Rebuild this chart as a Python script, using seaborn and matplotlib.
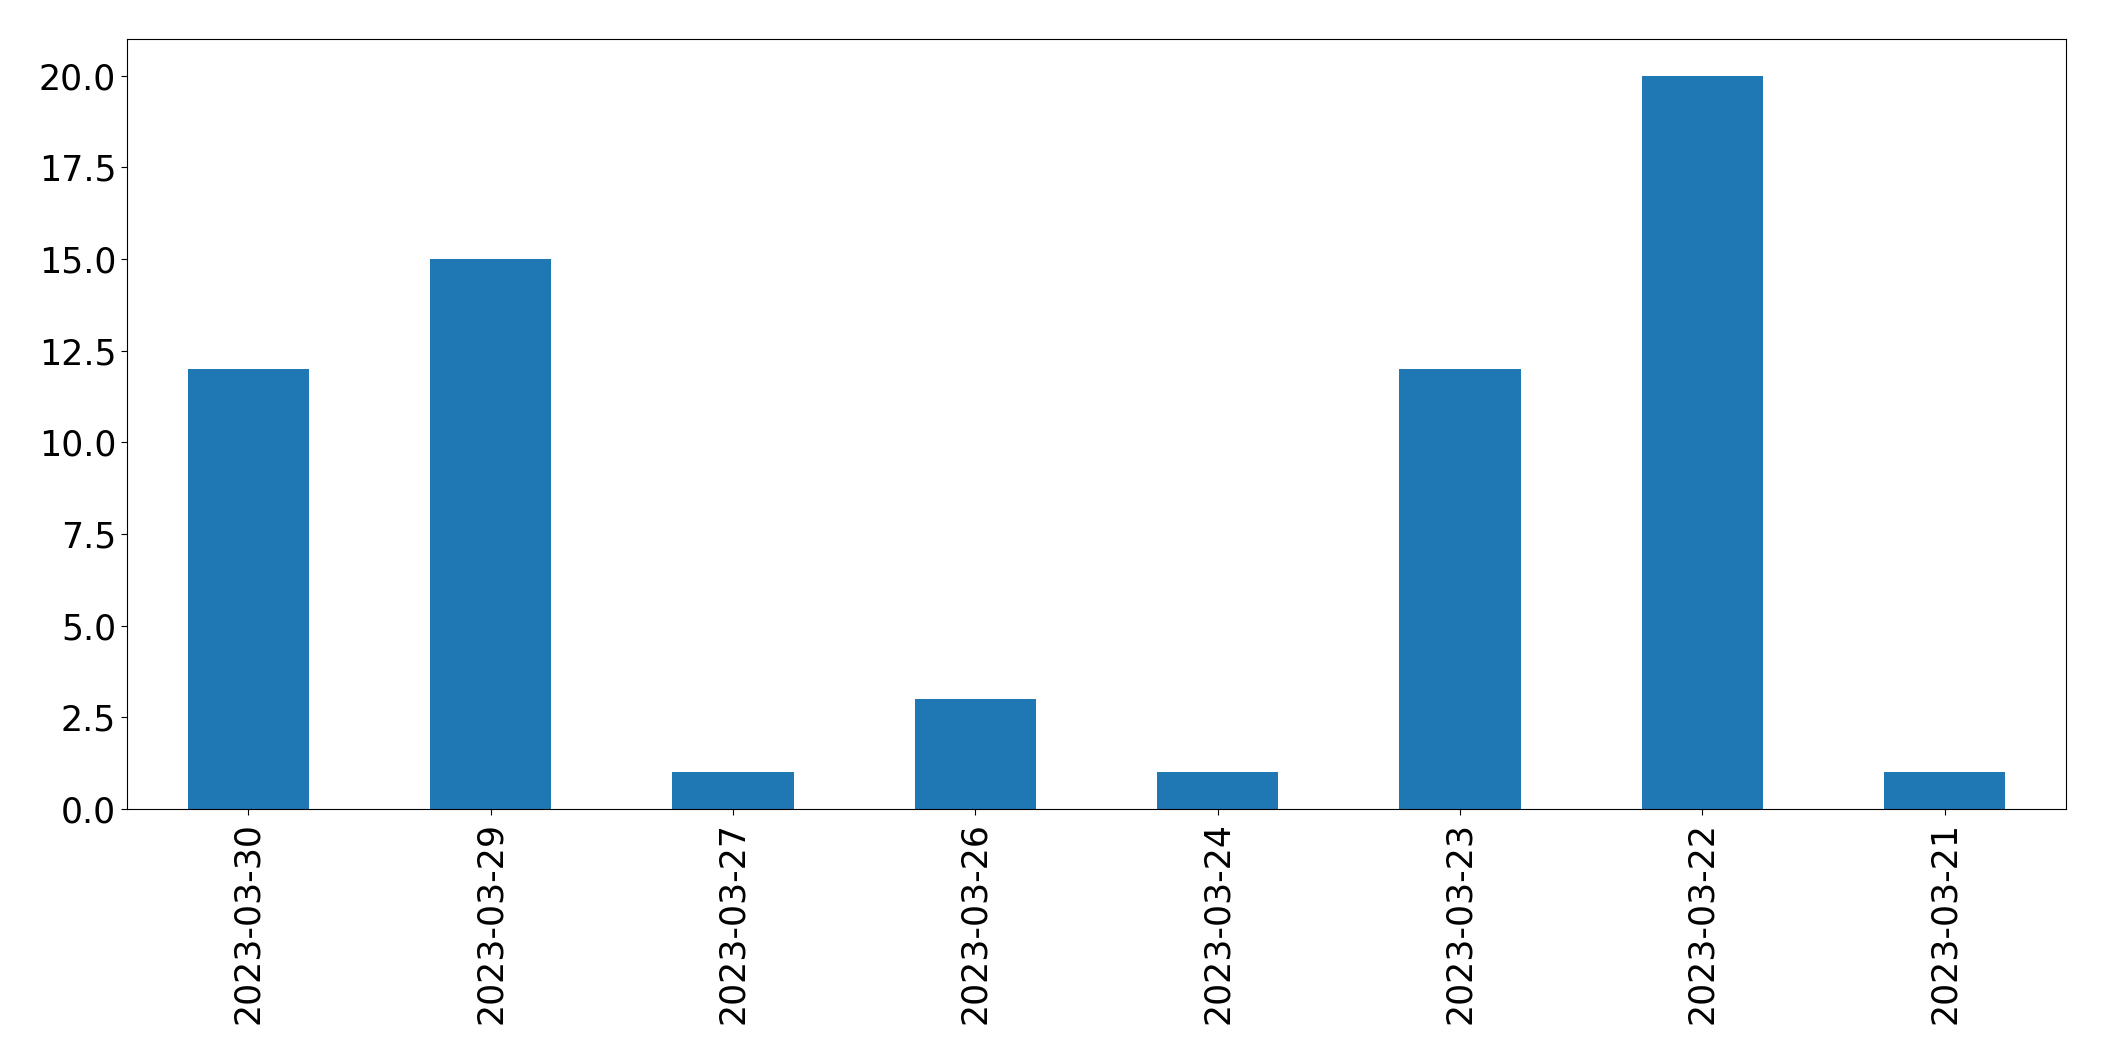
import pandas as pd
import matplotlib.pyplot as plt
import seaborn as sns

# data
dates = ["2023-03-30", "2023-03-29", "2023-03-27", "2023-03-26",
         "2023-03-24", "2023-03-23", "2023-03-22", "2023-03-21"]
counts = [12, 15, 1, 3, 1, 12, 20, 1]

df = pd.DataFrame({"date": dates, "count": counts})

fig, ax = plt.subplots(figsize=(21.04, 10.61), dpi=100)
fig.subplots_adjust(left=127/2104, right=2066/2104, top=1-39/1061, bottom=1-809/1061)

sns.barplot(data=df, x="date", y="count", order=dates, color="#1f77b4",
            saturation=1, width=0.5, ax=ax)

ax.set_xlim(-0.5, len(dates) - 0.5)
ax.set_ylim(0, 21)
ax.set_xlabel("")
ax.set_ylabel("")
ax.tick_params(axis="both", labelsize=25, length=4.3, width=0.8)
ax.tick_params(axis="x", labelrotation=90, pad=5)
for s in ax.spines.values():
    s.set_linewidth(0.8)

plt.savefig("out.png", dpi=100)
